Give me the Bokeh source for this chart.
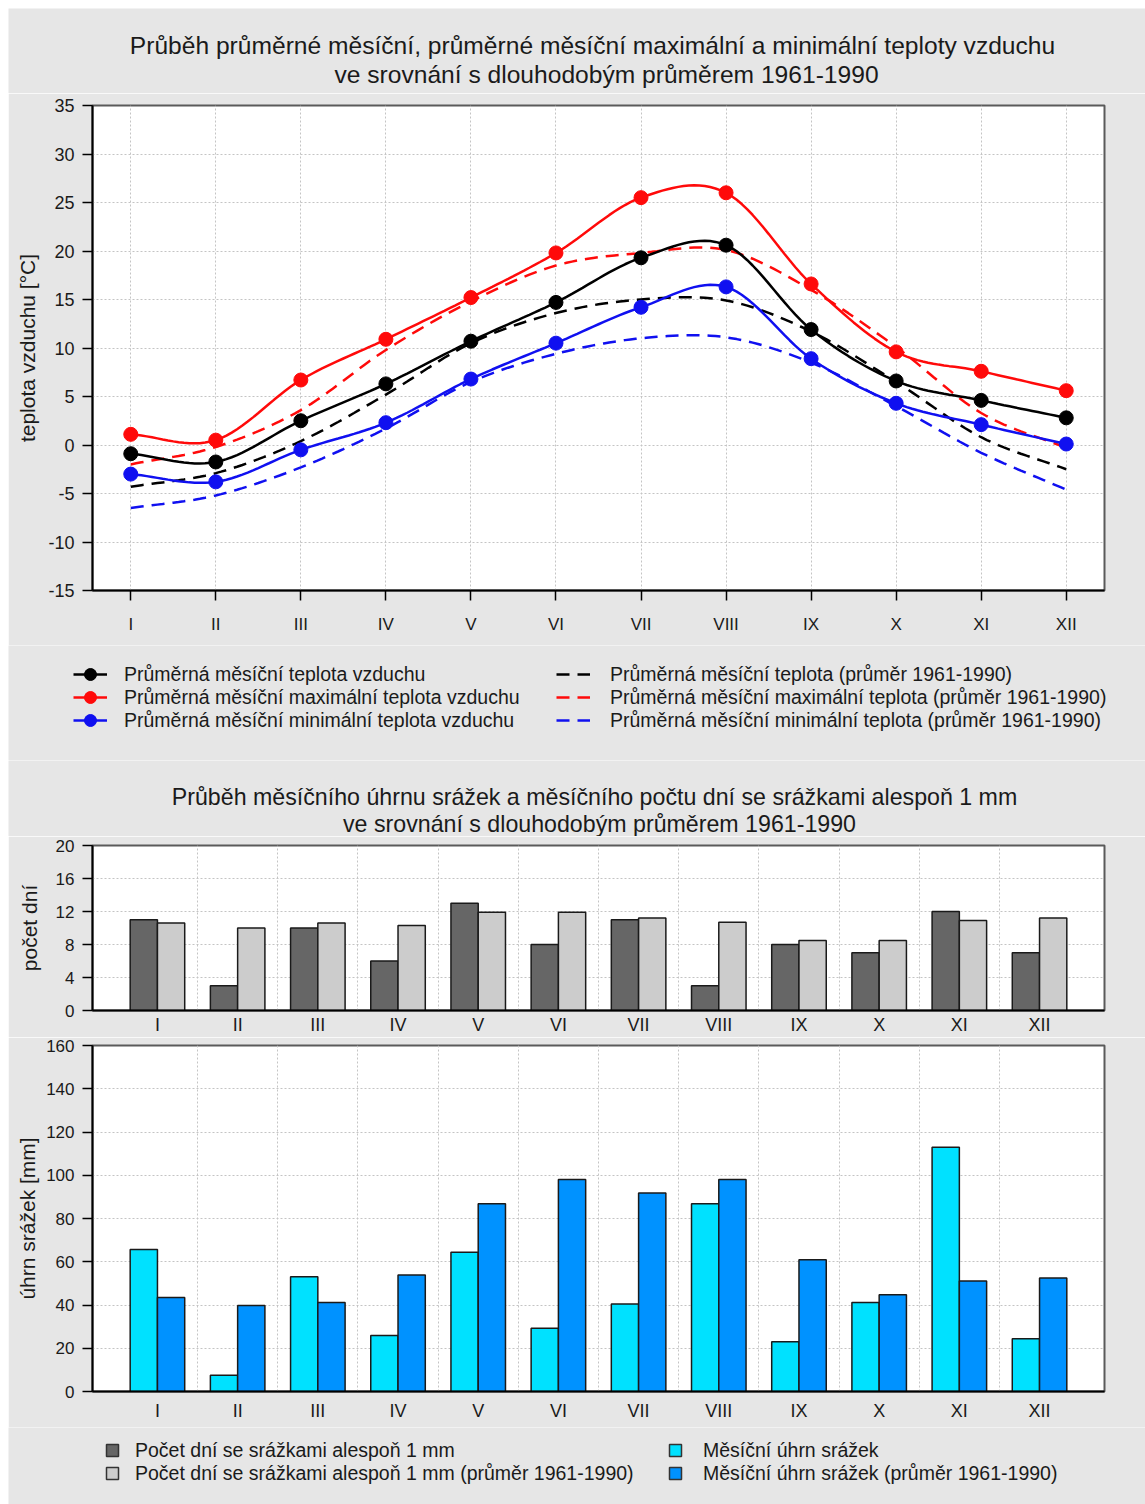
import numpy as np
from bokeh.plotting import figure
from bokeh.models import Range1d, FixedTicker, Label, Legend, LegendItem, ColumnDataSource
from bokeh.transform import dodge
from bokeh.layouts import column
from bokeh.embed import file_html
from bokeh.resources import INLINE

# ---------------- data ----------------
months = ["I", "II", "III", "IV", "V", "VI", "VII", "VIII", "IX", "X", "XI", "XII"]
month_no = list(range(1, 13))

t_mean = [-0.9, -1.75, 2.5, 6.3, 10.7, 14.7, 19.3, 20.6, 11.9, 6.6, 4.6, 2.8]
t_max = [1.1, 0.5, 6.7, 10.9, 15.2, 19.8, 25.5, 26.0, 16.6, 9.6, 7.6, 5.6]
t_min = [-3.0, -3.8, -0.5, 2.3, 6.8, 10.5, 14.2, 16.3, 8.9, 4.3, 2.1, 0.1]

n_mean = [-4.3, -2.9, 0.4, 5.2, 10.5, 13.6, 15.0, 14.9, 11.7, 6.5, 0.8, -2.5]
n_max = [-2.0, -0.2, 3.6, 9.8, 14.8, 18.5, 19.8, 20.1, 16.0, 10.1, 3.3, -0.3]
n_min = [-6.5, -5.2, -2.3, 1.7, 6.5, 9.4, 11.0, 11.1, 8.5, 4.0, -0.8, -4.6]

days = [11, 3, 10, 6, 13, 8, 11, 3, 8, 7, 12, 7]
days_norm = [10.6, 10.0, 10.6, 10.3, 11.9, 11.9, 11.2, 10.7, 8.5, 8.5, 10.9, 11.2]

prec = [65.7, 7.5, 53.1, 25.9, 64.4, 29.2, 40.5, 86.8, 23.0, 41.1, 112.9, 24.4]
prec_norm = [43.5, 39.8, 41.1, 53.9, 86.8, 98.0, 91.8, 98.0, 60.9, 44.7, 51.1, 52.5]

temp_ticks = [-15, -10, -5, 0, 5, 10, 15, 20, 25, 30, 35]
day_ticks = [0, 4, 8, 12, 16, 20]
prec_ticks = [0, 20, 40, 60, 80, 100, 120, 140, 160]

title1 = ["Průběh průměrné měsíční, průměrné měsíční maximální a minimální teploty vzduchu",
          "ve srovnání s dlouhodobým průměrem 1961-1990"]
title2 = ["Průběh měsíčního úhrnu srážek a měsíčního počtu dní se srážkami alespoň 1 mm",
          "ve srovnání s dlouhodobým průměrem 1961-1990"]
left_labels = ["Průměrná měsíční teplota vzduchu",
               "Průměrná měsíční maximální teplota vzduchu",
               "Průměrná měsíční minimální teplota vzduchu"]
right_labels = ["Průměrná měsíční teplota (průměr 1961-1990)",
                "Průměrná měsíční maximální teplota (průměr 1961-1990)",
                "Průměrná měsíční minimální teplota (průměr 1961-1990)"]
bar_labels = ["Počet dní se srážkami alespoň 1 mm",
              "Počet dní se srážkami alespoň 1 mm (průměr 1961-1990)",
              "Měsíční úhrn srážek",
              "Měsíční úhrn srážek (průměr 1961-1990)"]

# ---------------- style ----------------
FONT = "Liberation Sans"
BG = "#e6e6e6"
TXT = "#1a1a1a"
GRID = "#c4c4c4"
RED = "#ff0a0a"
BLUE = "#1010f0"
BLACK = "#000000"
DARK = "#666666"
LIGHT = "#cccccc"
CYAN = "#00e1ff"
AZURE = "#0092ff"
DASH = "13 8"
W = 1137
FW = 1012
LB = 84
RB = W - LB - FW


def spline(ys, per=16):
    y = np.asarray(ys, float)
    n = len(y)
    x = np.arange(1, n + 1, dtype=float)
    m = np.empty(n)
    m[1:-1] = (y[2:] - y[:-2]) / 2.0
    m[0] = y[1] - y[0]
    m[-1] = y[-1] - y[-2]
    xs, out = [], []
    for i in range(n - 1):
        t = np.linspace(0, 1, per, endpoint=(i == n - 2))
        h00 = 2 * t**3 - 3 * t**2 + 1
        h10 = t**3 - 2 * t**2 + t
        h01 = -2 * t**3 + 3 * t**2
        h11 = t**3 - t**2
        out.append(h00 * y[i] + h10 * m[i] + h01 * y[i + 1] + h11 * m[i + 1])
        xs.append(x[i] + t)
    return np.concatenate(xs), np.concatenate(out)


def blank(h):
    p = figure(frame_width=W, frame_height=h, min_border=0,
               x_range=Range1d(0, W), y_range=Range1d(0, h),
               x_axis_type=None, y_axis_type=None, output_backend="svg",
               toolbar_location=None, background_fill_color=BG, border_fill_color=BG)
    p.outline_line_color = None
    p.grid.visible = False
    return p


def add_titles(p, lines, xs, ys, size):
    for txt, x, y in zip(lines, xs, ys):
        p.add_layout(Label(x=x, y=y, text=txt, text_align="center", text_baseline="middle",
                           text_font=FONT, text_font_size=size, text_color=TXT))


def add_legend_row(p, label, renderers, vx, vy, gw, standoff):
    lg = Legend(items=[LegendItem(label=label, renderers=renderers)],
                location=(vx, vy), orientation="vertical",
                glyph_width=gw, glyph_height=30, label_height=30, label_standoff=standoff,
                padding=0, margin=0, spacing=0,
                border_line_color=None, background_fill_alpha=0,
                label_text_font=FONT, label_text_font_size="19.5px",
                label_text_color=TXT)
    p.add_layout(lg)


def chart(fh, top, bottom, xr, yr, ylab, yticks, ytick_size, xtick_size,
          xtick_out, xstandoff, ylab_standoff):
    p = figure(frame_width=FW, frame_height=fh, min_border_left=LB, min_border_right=RB,
               min_border_top=top, min_border_bottom=bottom,
               x_range=Range1d(*xr), y_range=Range1d(*yr),
               output_backend="svg", toolbar_location=None,
               background_fill_color="white", border_fill_color=BG)
    p.outline_line_color = "#5a5a5a"
    p.outline_line_width = 2
    for ax in (p.xaxis[0], p.yaxis[0]):
        ax.axis_line_color = BLACK
        ax.axis_line_width = 2
        ax.minor_tick_line_color = None
        ax.major_tick_line_color = BLACK
        ax.major_tick_line_width = 1.5
        ax.major_label_text_font = FONT
        ax.major_label_text_color = TXT
    p.yaxis.ticker = FixedTicker(ticks=yticks)
    p.yaxis.major_label_overrides = {t: str(t) for t in yticks}
    p.yaxis.major_tick_in = 0
    p.yaxis.major_tick_out = 10
    p.yaxis.major_label_text_font_size = ytick_size
    p.yaxis.major_label_standoff = 8
    p.yaxis.axis_label = ylab
    p.yaxis.axis_label_text_font = FONT
    p.yaxis.axis_label_text_font_size = "21px"
    p.yaxis.axis_label_text_font_style = "normal"
    p.yaxis.axis_label_text_color = TXT
    p.yaxis.axis_label_standoff = ylab_standoff
    p.xaxis.ticker = FixedTicker(ticks=month_no)
    p.xaxis.major_label_overrides = {i: m for i, m in zip(month_no, months)}
    p.xaxis.major_tick_in = 0
    p.xaxis.major_tick_out = xtick_out
    if xtick_out == 0:
        p.xaxis.major_tick_line_color = None
    p.xaxis.major_label_text_font_size = xtick_size
    p.xaxis.major_label_standoff = xstandoff
    for g in (p.xgrid[0], p.ygrid[0]):
        g.grid_line_color = GRID
        g.grid_line_dash = "2 2"
        g.grid_line_width = 1
    return p


# ---------------- header 1 ----------------
h1 = blank(85)
add_titles(h1, title1, [584, 598], [48, 19], "24.6px")

# ---------------- temperature chart ----------------
p1 = chart(485, 12, 55, (0.55, 12.45), (-15, 35), "teplota vzduchu [°C]", temp_ticks,
           "18px", "17px", 10, 14, 6)
src1 = ColumnDataSource(dict(x=month_no, mean=t_mean, tmax=t_max, tmin=t_min,
                             nmean=n_mean, nmax=n_max, nmin=n_min))
for vals, col in ((n_mean, BLACK), (n_max, RED), (n_min, BLUE)):
    sx, sy = spline(vals)
    p1.line(sx, sy, line_color=col, line_width=2.5, line_dash=DASH)
for field, vals, col in (("mean", t_mean, BLACK), ("tmax", t_max, RED), ("tmin", t_min, BLUE)):
    sx, sy = spline(vals)
    p1.line(sx, sy, line_color=col, line_width=2.5)
    p1.scatter("x", field, source=src1, marker="circle", size=14, fill_color=col, line_color=col)

# ---------------- legend 1 (keys are hidden renderers of the same series) ----------------
l1 = blank(115)
row_vy = [71, 48, 25]
series = (("mean", "nmean", BLACK), ("tmax", "nmax", RED), ("tmin", "nmin", BLUE))
for i, (f, nf, col) in enumerate(series):
    ln = l1.line("x", f, source=src1, line_color=col, line_width=2.5, visible=False)
    sc = l1.scatter("x", f, source=src1, marker="circle", size=12, fill_color=col,
                    line_color=col, visible=False)
    add_legend_row(l1, left_labels[i], [ln, sc], 65, row_vy[i], 34, 17)
    dl = l1.line("x", nf, source=src1, line_color=col, line_width=2.5, line_dash=DASH,
                 visible=False)
    add_legend_row(l1, right_labels[i], [dl], 548, row_vy[i], 34, 20)

# ---------------- header 2 ----------------
h2 = blank(76)
add_titles(h2, title2, [586, 591], [40, 13], "23.2px")

# ---------------- rain days chart ----------------
XR = (0.19, 12.81)
half_ticks = [m + 0.5 for m in month_no[:-1]]
p2 = chart(165, 9, 25, XR, (0, 20), "počet dní", day_ticks, "17px", "18px", 0, 4, 12)
p2.xgrid.ticker = FixedTicker(ticks=half_ticks)
src2 = ColumnDataSource(dict(x=month_no, d=days, dn=days_norm))
p2.vbar(x=dodge("x", -0.17, range=p2.x_range), top="d", width=0.34, source=src2,
        fill_color=DARK, line_color="#1a1a1a", line_width=1.5)
p2.vbar(x=dodge("x", 0.17, range=p2.x_range), top="dn", width=0.34, source=src2,
        fill_color=LIGHT, line_color="#1a1a1a", line_width=1.5)

# ---------------- precipitation chart ----------------
p3 = chart(346, 8, 36, XR, (0, 160), "úhrn srážek [mm]", prec_ticks, "17px", "18px", 0, 9, 4)
p3.xgrid.ticker = FixedTicker(ticks=half_ticks)
src3 = ColumnDataSource(dict(x=month_no, p=prec, pn=prec_norm))
p3.vbar(x=dodge("x", -0.17, range=p3.x_range), top="p", width=0.34, source=src3,
        fill_color=CYAN, line_color="#1a1a1a", line_width=1.5)
p3.vbar(x=dodge("x", 0.17, range=p3.x_range), top="pn", width=0.34, source=src3,
        fill_color=AZURE, line_color="#1a1a1a", line_width=1.5)

# ---------------- legend 3 ----------------
l3 = blank(79)
leg_pos = [(89, 41, 8), (89, 18, 8), (652, 41, 13), (652, 18, 13)]
for (src, field, col), lab, (vx, vy, so) in zip(
        ((src2, "d", DARK), (src2, "dn", LIGHT), (src3, "p", CYAN), (src3, "pn", AZURE)),
        bar_labels, leg_pos):
    r = l3.scatter("x", field, source=src, marker="square", size=12, fill_color=col,
                   line_color="#333333", line_width=1.5, visible=False)
    add_legend_row(l3, lab, [r], vx, vy, 30, so)

layout = column(h1, column(p1), l1, h2, column(p2), column(p3), l3,
                spacing=0, margin=(8, 0, 0, 8))
open("out.html", "w").write(file_html(layout, INLINE))
